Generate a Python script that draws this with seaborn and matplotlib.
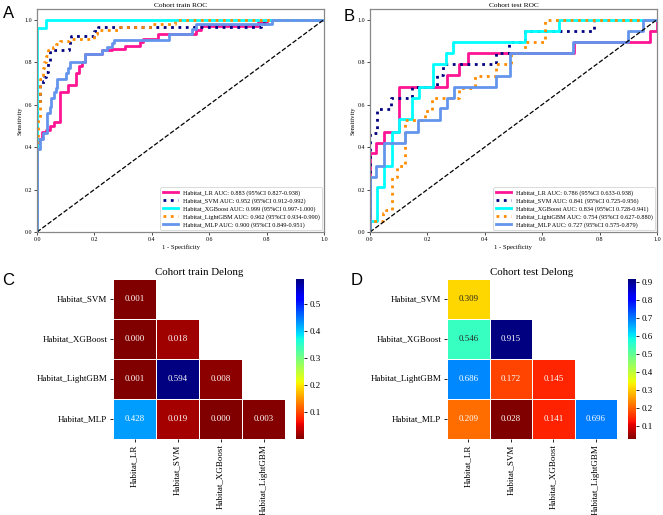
import numpy as np
import pandas as pd
import matplotlib
matplotlib.use("Agg")
import matplotlib.pyplot as plt
from matplotlib.ticker import MultipleLocator
import seaborn as sns

plt.rcParams['font.family'] = ['Liberation Serif', 'DejaVu Serif']

models = ["Habitat_LR", "Habitat_SVM", "Habitat_XGBoost", "Habitat_LightGBM", "Habitat_MLP"]
colors = ["#FF1493", "#000080", "#00FFFF", "#FF8C00", "#6495ED"]
styles = ["-", ":", "-", ":", "-"]

# ---- Train ROC (step points: fpr, tpr level starting at that fpr)
lr_tr_fpr = [0, 0, 0.008, 0.017, 0.03, 0.045, 0.06, 0.08, 0.107, 0.135, 0.145, 0.157, 0.167, 0.225, 0.26, 0.307, 0.36, 0.37, 0.42, 0.555, 0.57, 0.77, 0.80, 1.0]
lr_tr_tpr = [0, 0.42, 0.44, 0.47, 0.48, 0.50, 0.52, 0.66, 0.69, 0.75, 0.78, 0.80, 0.84, 0.855, 0.86, 0.878, 0.893, 0.91, 0.93, 0.95, 0.97, 0.99, 1.0, 1.0]
svm_tr_fpr = [0, 0, 0.01, 0.02, 0.025, 0.03, 0.038, 0.045, 0.11, 0.115, 0.12, 0.2, 0.213, 0.78, 0.79, 1.0]
svm_tr_tpr = [0, 0.6, 0.69, 0.71, 0.73, 0.755, 0.80, 0.855, 0.88, 0.90, 0.925, 0.945, 0.964, 0.98, 1.0, 1.0]
xgb_tr_fpr = [0, 0, 0.03, 1.0]
xgb_tr_tpr = [0, 0.96, 1.0, 1.0]
lgbm_tr_fpr = [0, 0, 0.005, 0.01, 0.012, 0.02, 0.023, 0.03, 0.04, 0.055, 0.065, 0.08, 0.11, 0.2, 0.21, 0.29, 0.40, 0.48, 1.0]
lgbm_tr_tpr = [0, 0.45, 0.53, 0.63, 0.72, 0.77, 0.80, 0.83, 0.855, 0.87, 0.885, 0.90, 0.91, 0.93, 0.95, 0.967, 0.98, 1.0, 1.0]
mlp_tr_fpr = [0, 0, 0.01, 0.02, 0.034, 0.045, 0.05, 0.06, 0.067, 0.07, 0.1, 0.108, 0.115, 0.167, 0.225, 0.243, 0.26, 0.27, 0.46, 0.54, 0.555, 0.82, 1.0]
mlp_tr_tpr = [0, 0.39, 0.44, 0.465, 0.56, 0.59, 0.63, 0.66, 0.68, 0.72, 0.75, 0.77, 0.80, 0.84, 0.855, 0.873, 0.89, 0.906, 0.934, 0.956, 0.98, 1.0, 1.0]
train_labels = [
    "Habitat_LR AUC: 0.883 (95%CI 0.827-0.938)",
    "Habitat_SVM AUC: 0.952 (95%CI 0.912-0.992)",
    "Habitat_XGBoost AUC: 0.999 (95%CI 0.997-1.000)",
    "Habitat_LightGBM AUC: 0.962 (95%CI 0.934-0.990)",
    "Habitat_MLP AUC: 0.900 (95%CI 0.849-0.951)",
]

# ---- Test ROC
lr_te_fpr = [0, 0, 0.02, 0.05, 0.10, 0.267, 0.31, 0.34, 0.71, 0.975, 1.0]
lr_te_tpr = [0, 0.37, 0.42, 0.47, 0.684, 0.737, 0.79, 0.842, 0.895, 0.947, 1.0]
svm_te_fpr = [0, 0, 0.023, 0.073, 0.145, 0.235, 0.255, 0.44, 0.485, 0.54, 0.78, 1.0]
svm_te_tpr = [0, 0.465, 0.58, 0.63, 0.684, 0.737, 0.79, 0.842, 0.895, 0.947, 1.0, 1.0]
xgb_te_fpr = [0, 0, 0.025, 0.05, 0.075, 0.1, 0.145, 0.17, 0.22, 0.265, 0.29, 0.54, 0.66, 1.0]
xgb_te_tpr = [0, 0.05, 0.21, 0.31, 0.47, 0.53, 0.63, 0.684, 0.79, 0.842, 0.895, 0.947, 1.0, 1.0]
lgbm_te_fpr = [0, 0, 0.045, 0.055, 0.075, 0.095, 0.115, 0.122, 0.19, 0.215, 0.31, 0.365, 0.44, 0.49, 0.54, 0.61, 1.0]
lgbm_te_tpr = [0, 0.05, 0.09, 0.105, 0.26, 0.31, 0.32, 0.527, 0.57, 0.63, 0.68, 0.734, 0.79, 0.842, 0.895, 1.0, 1.0]
mlp_te_fpr = [0, 0, 0.02, 0.05, 0.122, 0.168, 0.244, 0.27, 0.292, 0.44, 0.487, 0.708, 0.90, 0.951, 1.0]
mlp_te_tpr = [0, 0.261, 0.313, 0.418, 0.473, 0.527, 0.582, 0.629, 0.684, 0.734, 0.842, 0.895, 0.947, 1.0, 1.0]
test_labels = [
    "Habitat_LR AUC: 0.786 (95%CI 0.633-0.938)",
    "Habitat_SVM AUC: 0.841 (95%CI 0.725-0.956)",
    "Habitat_XGBoost AUC: 0.834 (95%CI 0.728-0.941)",
    "Habitat_LightGBM AUC: 0.754 (95%CI 0.627-0.880)",
    "Habitat_MLP AUC: 0.727 (95%CI 0.575-0.879)",
]

# ---- Delong p-values
row_names = ["Habitat_SVM", "Habitat_XGBoost", "Habitat_LightGBM", "Habitat_MLP"]
col_names = ["Habitat_LR", "Habitat_SVM", "Habitat_XGBoost", "Habitat_LightGBM"]
train_svm = [0.001]
train_xgb = [0.0001, 0.018]
train_lgbm = [0.001, 0.594, 0.008]
train_mlp = [0.428, 0.019, 0.0001, 0.003]
test_svm = [0.309]
test_xgb = [0.546, 0.915]
test_lgbm = [0.686, 0.172, 0.145]
test_mlp = [0.209, 0.028, 0.141, 0.696]

fig = plt.figure(figsize=(6.63, 5.15), dpi=100)

def roc_panel(rect, curves, labels, title):
    ax = fig.add_axes(rect)
    for (fpr, tpr), lab, c, ls in zip(curves, labels, colors, styles):
        df = pd.DataFrame({"fpr": fpr, "tpr": tpr})
        sns.lineplot(data=df, x="fpr", y="tpr", ax=ax, color=c, linestyle=ls, lw=2.0,
                     drawstyle="steps-post", estimator=None, sort=False, label=lab)
    diag = pd.DataFrame({"x": [0, 1], "y": [0, 1]})
    sns.lineplot(data=diag, x="x", y="y", ax=ax, color="black", linestyle="--", lw=0.9,
                 estimator=None, sort=False)
    ax.set_xlim(0, 1)
    ax.set_ylim(0, 1.05)
    ax.set_xticks(np.arange(0, 1.01, 0.2))
    ax.set_yticks(np.arange(0, 1.01, 0.2))
    ax.tick_params(labelsize=4.3, length=2, width=0.5, pad=1.5)
    ax.set_xlabel("1 - Specificity", fontsize=4.8, labelpad=1.5)
    ax.set_ylabel("Sensitivity", fontsize=4.8, labelpad=1.5)
    ax.set_title(title, fontsize=5.3, pad=1.5)
    for s in ax.spines.values():
        s.set_color("#888888")
        s.set_linewidth(0.9)
    leg = ax.legend(loc="lower right", fontsize=4.5, handlelength=2.4, labelspacing=0.35,
                    borderaxespad=0.3, framealpha=1)
    leg.get_frame().set_linewidth(0.5)
    return ax

train_curves = [(lr_tr_fpr, lr_tr_tpr), (svm_tr_fpr, svm_tr_tpr), (xgb_tr_fpr, xgb_tr_tpr),
                (lgbm_tr_fpr, lgbm_tr_tpr), (mlp_tr_fpr, mlp_tr_tpr)]
test_curves = [(lr_te_fpr, lr_te_tpr), (svm_te_fpr, svm_te_tpr), (xgb_te_fpr, xgb_te_tpr),
               (lgbm_te_fpr, lgbm_te_tpr), (mlp_te_fpr, mlp_te_tpr)]

roc_panel([37/663, 1-232/515, 287/663, 223/515], train_curves, train_labels, "Cohort train ROC")
roc_panel([370/663, 1-232/515, 287/663, 223/515], test_curves, test_labels, "Cohort test ROC")

def build(rows):
    m = np.full((4, 4), np.nan)
    for i, r in enumerate(rows):
        m[i, :len(r)] = r
    return pd.DataFrame(m, index=row_names, columns=col_names)

def heat_panel(rect, crect, rows, title):
    ax = fig.add_axes(rect)
    cax = fig.add_axes(crect)
    df = build(rows)
    mask = df.isna()
    sns.heatmap(df, mask=mask, cmap="jet_r", annot=True, fmt=".3f", linewidths=0.6,
                linecolor="white", ax=ax, cbar_ax=cax, annot_kws={"size": 6.4})
    ax.tick_params(labelsize=6.5, length=2.5, width=0.6, pad=1.5)
    ax.set_yticklabels(ax.get_yticklabels(), rotation=0)
    ax.set_xticklabels(ax.get_xticklabels(), rotation=90)
    ax.set_xlabel("")
    ax.set_ylabel("")
    ax.set_title(title, fontsize=7.8, pad=3)
    cax.yaxis.set_major_locator(MultipleLocator(0.1))
    cax.tick_params(labelsize=6.5, length=2.5, width=0.6, pad=1.5)
    return ax

heat_panel([113/663, 1-439/515, 172/663, 160/515], [296/663, 1-439/515, 8/663, 160/515],
           [train_svm, train_xgb, train_lgbm, train_mlp], "Cohort train Delong")
heat_panel([447/663, 1-439/515, 170/663, 160/515], [628/663, 1-439/515, 8/663, 160/515],
           [test_svm, test_xgb, test_lgbm, test_mlp], "Cohort test Delong")

for txt, x, y in [("A", 3, 6), ("B", 344, 9), ("C", 2, 273), ("D", 351, 273)]:
    fig.text(x/663, 1-y/515, txt, fontsize=12, family="Liberation Sans", va="top", ha="left")

fig.savefig("out.png", dpi=100)
